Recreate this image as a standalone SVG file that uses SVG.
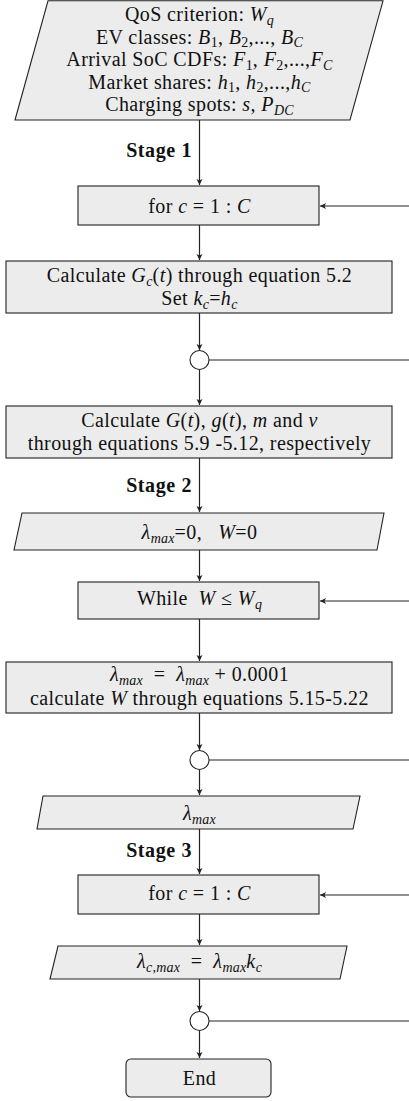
<svg xmlns="http://www.w3.org/2000/svg" width="409" height="1101" viewBox="0 0 409 1101" font-family="'Liberation Serif', serif">
<style>
.shape{fill:#ececec;stroke:#222;stroke-width:1.1}
.conn{stroke:#222;stroke-width:1.2;fill:none}
.circ{fill:#fff;stroke:#222;stroke-width:1.1}
text{font-family:'Liberation Serif',serif;font-size:20px;letter-spacing:0.4px;fill:#111;text-anchor:middle;white-space:pre}
.b{font-weight:bold;text-anchor:end;letter-spacing:0.6px}
.i{font-style:italic}
.s{font-size:14px;letter-spacing:0.2px}
</style>
<defs>
<marker id="ah" markerWidth="8" markerHeight="8" refX="6" refY="3" orient="auto" markerUnits="userSpaceOnUse">
<path d="M0,0 L6,3 L0,6 L1.5,3 Z" fill="#222"/>
</marker>
</defs>
<g id="connectors">
<line class="conn" x1="199.5" y1="120" x2="199.5" y2="185" marker-end="url(#ah)"/>
<line class="conn" x1="409" y1="206" x2="320" y2="206" marker-end="url(#ah)"/>
<line class="conn" x1="199.5" y1="225" x2="199.5" y2="260" marker-end="url(#ah)"/>
<line class="conn" x1="199.5" y1="313" x2="199.5" y2="350" marker-end="url(#ah)"/>
<line class="conn" x1="209" y1="360" x2="409" y2="360"/>
<line class="conn" x1="199.5" y1="369.5" x2="199.5" y2="405" marker-end="url(#ah)"/>
<line class="conn" x1="199.5" y1="458" x2="199.5" y2="512" marker-end="url(#ah)"/>
<line class="conn" x1="199.5" y1="550" x2="199.5" y2="581" marker-end="url(#ah)"/>
<line class="conn" x1="409" y1="601" x2="320" y2="601" marker-end="url(#ah)"/>
<line class="conn" x1="199.5" y1="619" x2="199.5" y2="661" marker-end="url(#ah)"/>
<line class="conn" x1="199.5" y1="713" x2="199.5" y2="750" marker-end="url(#ah)"/>
<line class="conn" x1="209" y1="760" x2="409" y2="760"/>
<line class="conn" x1="199.5" y1="769.5" x2="199.5" y2="795" marker-end="url(#ah)"/>
<line class="conn" x1="199.5" y1="829" x2="199.5" y2="874" marker-end="url(#ah)"/>
<line class="conn" x1="409" y1="895" x2="320" y2="895" marker-end="url(#ah)"/>
<line class="conn" x1="199.5" y1="914" x2="199.5" y2="945" marker-end="url(#ah)"/>
<line class="conn" x1="199.5" y1="979" x2="199.5" y2="1011" marker-end="url(#ah)"/>
<line class="conn" x1="209" y1="1021" x2="409" y2="1021"/>
<line class="conn" x1="199.5" y1="1030.5" x2="199.5" y2="1058" marker-end="url(#ah)"/>
<text class="b" x="192" y="157">Stage 1</text>
<text class="b" x="192" y="492">Stage 2</text>
<text class="b" x="192" y="857">Stage 3</text>
</g>
<g id="input">
<polygon class="shape" points="48,0.8 383,0.8 350,120 15,120"/>
<text x="199.5" y="21">QoS criterion: <tspan class="i">W</tspan><tspan class="i s" dy="3.5">q</tspan></text>
<text x="199.5" y="43.5">EV classes: <tspan class="i">B</tspan><tspan class="s" dy="3.5">1</tspan><tspan dy="-3.5">, </tspan><tspan class="i">B</tspan><tspan class="s" dy="3.5">2</tspan><tspan dy="-3.5">,..., </tspan><tspan class="i">B</tspan><tspan class="i s" dy="3.5">C</tspan></text>
<text x="199.5" y="66">Arrival SoC CDFs: <tspan class="i">F</tspan><tspan class="s" dy="3.5">1</tspan><tspan dy="-3.5">, </tspan><tspan class="i">F</tspan><tspan class="s" dy="3.5">2</tspan><tspan dy="-3.5">,...,</tspan><tspan class="i">F</tspan><tspan class="i s" dy="3.5">C</tspan></text>
<text x="199.5" y="88.5">Market shares: <tspan class="i">h</tspan><tspan class="s" dy="3.5">1</tspan><tspan dy="-3.5">, </tspan><tspan class="i">h</tspan><tspan class="s" dy="3.5">2</tspan><tspan dy="-3.5">,...,</tspan><tspan class="i">h</tspan><tspan class="i s" dy="3.5">C</tspan></text>
<text x="199.5" y="111">Charging spots: <tspan class="i">s</tspan>, <tspan class="i">P</tspan><tspan class="i s" dy="3.5">DC</tspan></text>
</g>
<g id="for1">
<rect class="shape" x="78" y="186" width="241" height="39"/>
<text x="199.5" y="213">for <tspan class="i">c</tspan> = 1 : <tspan class="i">C</tspan></text>
</g>
<g id="calcGc">
<rect class="shape" x="6" y="261" width="386" height="52"/>
<text x="199.5" y="282">Calculate <tspan class="i">G</tspan><tspan class="i s" dy="3.5">c</tspan><tspan dy="-3.5">(</tspan><tspan class="i">t</tspan>) through equation 5.2</text>
<text x="199.5" y="305">Set <tspan class="i">k</tspan><tspan class="i s" dy="3.5">c</tspan><tspan dy="-3.5">=</tspan><tspan class="i">h</tspan><tspan class="i s" dy="3.5">c</tspan></text>
</g>
<g id="join1"><circle class="circ" cx="199.5" cy="360" r="9.5"/></g>
<g id="calcG">
<rect class="shape" x="6" y="406" width="386" height="52"/>
<text x="199.5" y="427">Calculate <tspan class="i">G</tspan>(<tspan class="i">t</tspan>), <tspan class="i">g</tspan>(<tspan class="i">t</tspan>), <tspan class="i">m</tspan> and <tspan class="i">v</tspan></text>
<text x="199.5" y="450">through equations 5.9 -5.12, respectively</text>
</g>
<g id="init">
<polygon class="shape" points="22,513 384,513 377,550 14,550"/>
<text x="199.5" y="539"><tspan class="i">λ</tspan><tspan class="i s" dy="3.5">max</tspan><tspan dy="-3.5">=0,   </tspan><tspan class="i">W</tspan>=0</text>
</g>
<g id="while">
<rect class="shape" x="78" y="582" width="241" height="37"/>
<text x="199.5" y="605">While  <tspan class="i">W</tspan> ≤ <tspan class="i">W</tspan><tspan class="i s" dy="3.5">q</tspan></text>
</g>
<g id="update">
<rect class="shape" x="6" y="662" width="386" height="51"/>
<text x="199.5" y="681"><tspan class="i">λ</tspan><tspan class="i s" dy="3.5">max</tspan><tspan dy="-3.5">  =  </tspan><tspan class="i">λ</tspan><tspan class="i s" dy="3.5">max</tspan><tspan dy="-3.5"> + 0.0001</tspan></text>
<text x="199.5" y="705">calculate <tspan class="i">W</tspan> through equations 5.15-5.22</text>
</g>
<g id="join2"><circle class="circ" cx="199.5" cy="760" r="9.5"/></g>
<g id="lmax">
<polygon class="shape" points="43,796 360,796 353,829 37,829"/>
<text x="199.5" y="820"><tspan class="i">λ</tspan><tspan class="i s" dy="3.5">max</tspan></text>
</g>
<g id="for2">
<rect class="shape" x="78" y="875" width="241" height="39"/>
<text x="199.5" y="900">for <tspan class="i">c</tspan> = 1 : <tspan class="i">C</tspan></text>
</g>
<g id="lcmax">
<polygon class="shape" points="58,946 347,946 340,979 50,979"/>
<text x="199.5" y="968"><tspan class="i">λ</tspan><tspan class="i s" dy="3.5">c,max</tspan><tspan dy="-3.5">  =  </tspan><tspan class="i">λ</tspan><tspan class="i s" dy="3.5">max</tspan><tspan class="i" dy="-3.5">k</tspan><tspan class="i s" dy="3.5">c</tspan></text>
</g>
<g id="join3"><circle class="circ" cx="199.5" cy="1021" r="9.5"/></g>
<g id="end">
<rect class="shape" x="126" y="1059" width="145" height="38" rx="5"/>
<text x="199.5" y="1085">End</text>
</g>
</svg>
